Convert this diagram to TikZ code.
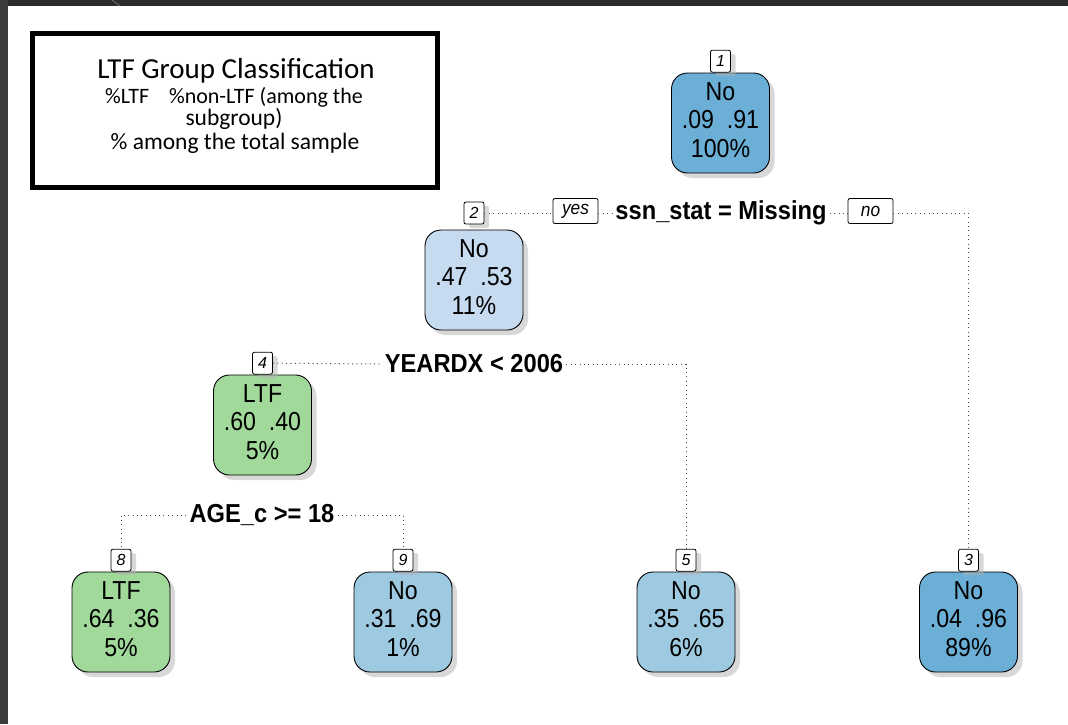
\documentclass[tikz,border=0pt]{standalone}
\usepackage{graphicx}
\usepackage{fontspec}
\setmainfont{Liberation Sans}
\newfontfamily\legendfont{Carlito}
\usetikzlibrary{shadows}
\definecolor{blueA}{HTML}{6BAED6}
\definecolor{blueB}{HTML}{C6DBEF}
\definecolor{blueC}{HTML}{9ECAE1}
\definecolor{greenA}{HTML}{A1D99B}
\definecolor{frameA}{HTML}{2B2B2B}
\definecolor{frameB}{HTML}{3C3C3C}
\definecolor{linegray}{HTML}{4A4A4A}
\newcommand{\tritext}[3]{\scalebox{0.89}[1]{\begin{tabular}{@{}c@{}}#1\\#2\\#3\end{tabular}}}
\newcommand{\narrowtext}[1]{\scalebox{0.91}[1]{#1}}
\begin{document}
\begin{tikzpicture}[x=1pt,y=-1pt,
 treenode/.style={draw=black, line width=0.9pt, rounded corners=16pt, minimum width=98pt, minimum height=100pt, inner sep=0pt, align=center, font=\fontsize{26}{28.5}\selectfont, drop shadow={shadow xshift=5pt, shadow yshift=-5pt, fill=black!30}},
 numbox/.style={draw=black, line width=0.8pt, fill=white, rounded corners=2pt, minimum width=20pt, minimum height=22pt, inner sep=0pt, font=\fontsize{16}{16}\selectfont\itshape, drop shadow={shadow xshift=5pt, shadow yshift=-4pt, fill=black!30}},
 yesno/.style={draw=black, line width=0.8pt, fill=white, rounded corners=2pt, minimum height=25pt, minimum width=45pt, inner sep=2pt, font=\fontsize{19}{19}\selectfont\itshape},
 splittext/.style={font=\fontsize{26}{26}\selectfont\bfseries, inner sep=3pt},
 splitline/.style={draw=linegray, line width=1pt, dash pattern=on 1pt off 3.4pt},
 legendtext/.style={font=\legendfont\fontsize{23.5}{25}\selectfont, inner sep=0pt},
 legendtitle/.style={font=\legendfont\fontsize{29}{30}\selectfont, inner sep=0pt}
]
\useasboundingbox (0,0) rectangle (1068,724);
\fill[white] (0,0) rectangle (1068,724);
\fill[frameA] (0,0) rectangle (1068,6);
\fill[frameB] (0,0) rectangle (8,724);
\draw[black!55, line width=0.8pt] (112,0) -- (120,6);

% legend
\node[draw=black, line width=5pt, minimum width=405pt, minimum height=154pt, inner sep=0pt] (legend) at (235,110.5) {};
\node[legendtitle] (lt1) at (236,71) {LTF Group Classification};
\node[legendtext, font=\legendfont\fontsize{22}{24}\selectfont] (lt2) at (234,97) {\%LTF\hspace{0.9em}\%non-LTF (among the};
\node[legendtext] (lt3) at (234,119) {subgroup)};
\node[legendtext] (lt4) at (235,143) {\% among the total sample};

% tree nodes
\node[treenode, fill=blueA] (n1) at (720.5,123) {\tritext{No}{.09\ \ .91}{100\%}};
\node[treenode, fill=blueB] (n2) at (474,280) {\tritext{No}{.47\ \ .53}{11\%}};
\node[treenode, fill=greenA] (n4) at (262.5,425) {\tritext{LTF}{.60\ \ .40}{5\%}};
\node[treenode, fill=greenA] (n8) at (121,622) {\tritext{LTF}{.64\ \ .36}{5\%}};
\node[treenode, fill=blueC] (n9) at (403,622) {\tritext{No}{.31\ \ .69}{1\%}};
\node[treenode, fill=blueC] (n5) at (686,622) {\tritext{No}{.35\ \ .65}{6\%}};
\node[treenode, fill=blueA] (n3) at (968.5,622) {\tritext{No}{.04\ \ .96}{89\%}};

% number labels
\node[numbox, anchor=south] (l1) at (n1.north) {1};
\node[numbox] (l2) at (474,213) {2};
\node[numbox, anchor=south] (l4) at (n4.north) {4};
\node[numbox, anchor=south] (l8) at (n8.north) {8};
\node[numbox, anchor=south] (l9) at (n9.north) {9};
\node[numbox, anchor=south] (l5) at (n5.north) {5};
\node[numbox, anchor=south] (l3) at (n3.north) {3};

% split labels
\node[yesno] (yes) at (575.5,211) {\narrowtext{yes}};
\node[splittext] (s1) at (721,213) {\narrowtext{ssn\_stat = Missing}};
\node[yesno] (no) at (870.5,211) {\narrowtext{no}};
\node[splittext] (s2) at (474,364) {\narrowtext{YEARDX < 2006}};
\node[splittext] (s3) at (262,515) {\narrowtext{AGE\_c >= 18}};

% connectors
\draw[splitline] (l2.east) -- (l2.east -| yes.west);
\draw[splitline] (yes.east |- s1.west) -- (s1.west);
\draw[splitline] (s1.east) -- (s1.east -| no.west);
\draw[splitline] (no.east |- s1.east) -| (l3.north);
\draw[splitline] (l4.east) -- (s2.west);
\draw[splitline] (s2.east) -| (l5.north);
\draw[splitline] (s3.west) -| (l8.north);
\draw[splitline] (s3.east) -| (l9.north);
\end{tikzpicture}
\end{document}
